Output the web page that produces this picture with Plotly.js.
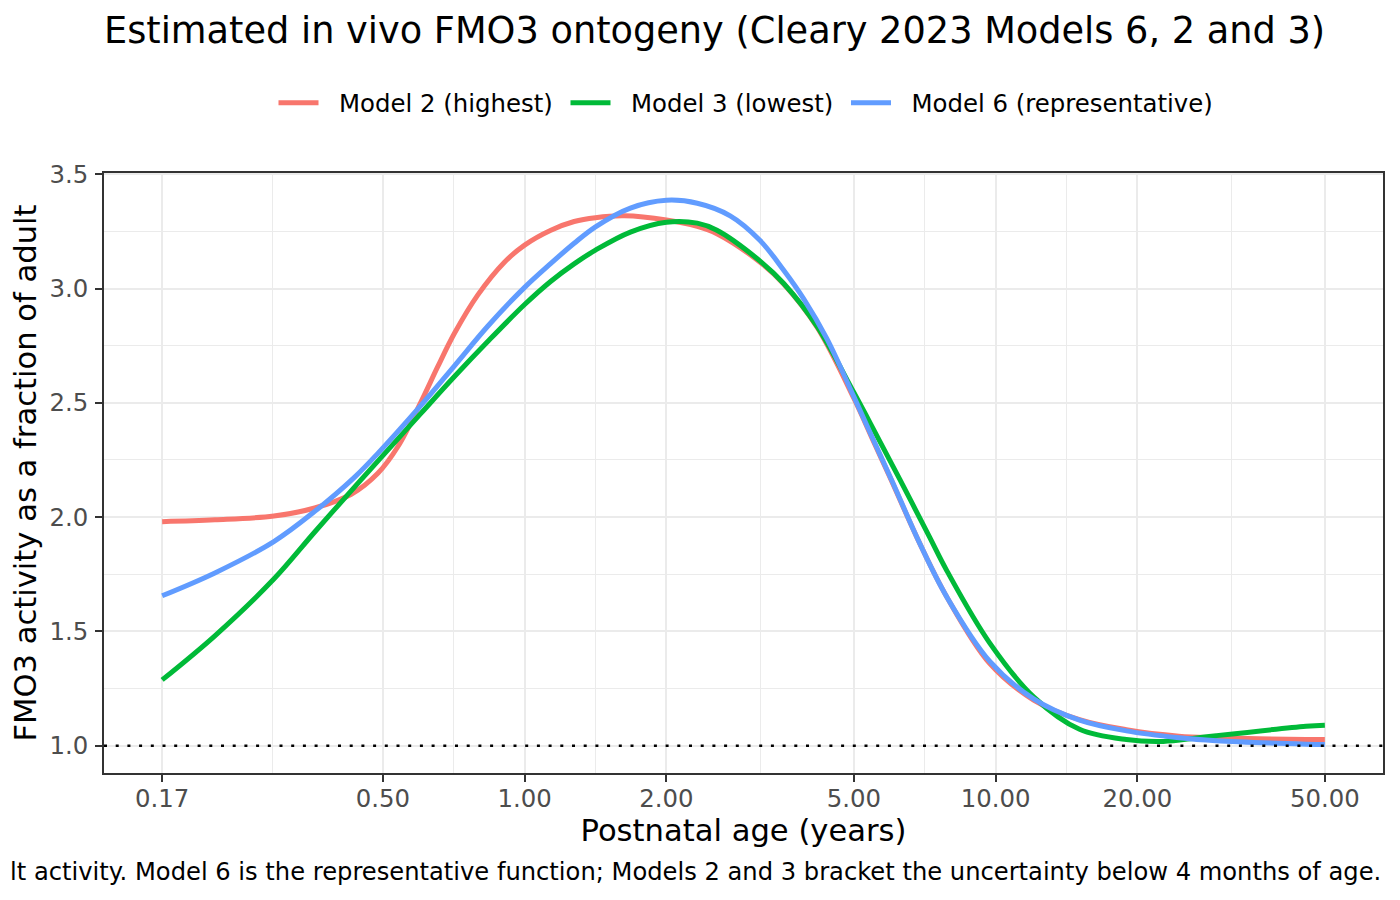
<!DOCTYPE html>
<html>
<head>
<meta charset="utf-8">
<script src="https://cdn.plot.ly/plotly-3.0.1.min.js"></script>
<style>
  html, body { margin: 0; padding: 0; background: #ffffff; }
  #chart { width: 1400px; height: 900px; }
</style>
</head>
<body>
<div id="chart"></div>
<script>
// ---- Data ----
const ageModel2 = [0.17, 0.22, 0.2935, 0.3584, 0.4285, 0.488, 0.538, 0.603, 0.654, 0.7097,
                   0.795, 0.906, 1.0, 1.137, 1.274, 1.414, 1.626, 2.0, 2.326, 2.56,
                   3.162, 3.549, 4.18, 5.0, 5.508, 5.964, 6.9, 7.88, 9.71, 12.04,
                   15.07, 18.95, 24.5, 29.4, 45.6, 50.0];
const model2Highest = [1.980, 1.988, 2.005, 2.040, 2.100, 2.192, 2.308, 2.505, 2.658, 2.804,
                       2.971, 3.115, 3.190, 3.255, 3.293, 3.310, 3.318, 3.300, 3.272, 3.240,
                       3.115, 3.020, 2.830, 2.520, 2.330, 2.175, 1.885, 1.650, 1.360, 1.200,
                       1.114, 1.070, 1.042, 1.035, 1.027, 1.027];

const ageModel3 = [0.17, 0.22, 0.2935, 0.3584, 0.4493, 0.488, 0.603, 0.7097, 0.835, 1.0,
                   1.137, 1.274, 1.414, 1.677, 2.0, 2.326, 2.56, 3.162, 3.549, 4.18,
                   5.0, 5.508, 6.26, 7.25, 7.88, 9.71, 12.04, 15.07, 18.95, 22.7,
                   26.7, 29.4, 45.6, 50.0];
const model3Lowest = [1.288, 1.481, 1.729, 1.935, 2.163, 2.245, 2.455, 2.615, 2.768, 2.930,
                      3.032, 3.108, 3.168, 3.247, 3.290, 3.286, 3.255, 3.120, 3.022, 2.833,
                      2.545, 2.383, 2.165, 1.910, 1.765, 1.450, 1.214, 1.072, 1.027, 1.019,
                      1.034, 1.044, 1.085, 1.090];

const ageModel6 = [0.17, 0.22, 0.2935, 0.3584, 0.4357, 0.488, 0.603, 0.7097, 0.835, 1.0,
                   1.137, 1.274, 1.414, 1.677, 2.0, 2.326, 2.732, 3.162, 3.549, 3.913,
                   4.385, 5.0, 5.508, 6.02, 6.9, 7.88, 9.71, 12.04, 15.07, 18.95,
                   24.5, 29.4, 45.6, 50.0];
const model6Representative = [1.656, 1.756, 1.893, 2.025, 2.175, 2.279, 2.490, 2.662, 2.835, 3.005,
                              3.110, 3.198, 3.270, 3.352, 3.386, 3.373, 3.318, 3.210, 3.080, 2.955,
                              2.780, 2.527, 2.335, 2.160, 1.885, 1.650, 1.370, 1.205, 1.112, 1.065,
                              1.035, 1.022, 1.007, 1.005];

const seriesNames = ["Model 2 (highest)", "Model 3 (lowest)", "Model 6 (representative)"];
const seriesColors = ["#F8766D", "#00BA38", "#619CFF"];

const xTickValues = [0.17, 0.5, 1, 2, 5, 10, 20, 50];
const xTickLabels = ["0.17", "0.50", "1.00", "2.00", "5.00", "10.00", "20.00", "50.00"];
const adultReference = 1.0;

const titleText = "Estimated in vivo FMO3 ontogeny (Cleary 2023 Models 6, 2 and 3)";
const xTitleText = "Postnatal age (years)";
const yTitleText = "FMO3 activity as a fraction of adult";
const captionText = "lt activity. Model 6 is the representative function; Models 2 and 3 bracket the uncertainty below 4 months of age.";

// ---- Derived helpers ----
// minor gridlines sit midway (in log space) between major breaks, as ggplot does
const xMinorValues = [];
for (let i = 0; i < xTickValues.length - 1; i++) {
  xMinorValues.push(Math.sqrt(xTickValues[i] * xTickValues[i + 1]));
}
const logMin = Math.log10(xTickValues[0]);
const logMax = Math.log10(xTickValues[xTickValues.length - 1]);
const xExpand = 0.05 * (logMax - logMin);

const allY = model2Highest.concat(model3Lowest, model6Representative, [adultReference]);
const yMin = Math.min.apply(null, allY);
const yMax = Math.max.apply(null, allY);
const yExpand = 0.05 * (yMax - yMin);

const FONT = "DejaVu Sans, Verdana, sans-serif";
const SMALL = 24.4;
const NB = "\u00a0";

const seriesAges = [ageModel2, ageModel3, ageModel6];
const seriesValues = [model2Highest, model3Lowest, model6Representative];
const traces = seriesValues.map((vals, i) => ({
  type: "scatter",
  mode: "lines",
  name: NB + NB + seriesNames[i] + NB,
  x: seriesAges[i],
  y: vals,
  line: { color: seriesColors[i], width: 5, shape: "spline", smoothing: 1 },
  hovertemplate: seriesNames[i] + "<br>Age %{x} y<br>%{y:.2f}<extra></extra>"
}));

const layout = {
  width: 1400,
  height: 900,
  paper_bgcolor: "#ffffff",
  plot_bgcolor: "#ffffff",
  font: { family: FONT, color: "#000000" },
  margin: { l: 104, r: 17, t: 173, b: 127, pad: 0 },
  title: {
    text: titleText,
    font: { family: FONT, size: 36.7, color: "#000000" },
    xref: "paper", x: 0, xanchor: "left",
    yref: "container", y: 1 - 30 / 900, yanchor: "middle"
  },
  showlegend: true,
  legend: {
    orientation: "h",
    xref: "paper", yref: "paper",
    x: 0.5 + 6 / 1279, xanchor: "center",
    y: 1 + 70 / 600, yanchor: "middle",
    font: { family: FONT, size: SMALL, color: "#000000" },
    bgcolor: "rgba(0,0,0,0)",
    itemwidth: 40
  },
  xaxis: {
    type: "log",
    range: [logMin - xExpand, logMax + xExpand],
    tickmode: "array",
    tickvals: xTickValues,
    ticktext: xTickLabels,
    tickfont: { family: FONT, size: SMALL, color: "#4D4D4D" },
    ticks: "outside",
    ticklen: 7,
    tickwidth: 2,
    tickcolor: "#333333",
    ticklabelstandoff: -4,
    showgrid: true,
    gridcolor: "#EBEBEB",
    gridwidth: 2,
    minor: {
      tickmode: "array",
      tickvals: xMinorValues,
      showgrid: true,
      gridcolor: "#EBEBEB",
      gridwidth: 1.1,
      ticks: ""
    },
    zeroline: false,
    showline: true,
    mirror: true,
    linecolor: "#333333",
    linewidth: 1.5,
    title: {
      text: xTitleText,
      font: { family: FONT, size: 30.6, color: "#000000" },
      standoff: 8
    },
    automargin: false
  },
  yaxis: {
    range: [yMin - yExpand, yMax + yExpand],
    tickmode: "linear",
    tick0: 1.0,
    dtick: 0.5,
    tickformat: ".1f",
    tickfont: { family: FONT, size: SMALL, color: "#4D4D4D" },
    ticks: "outside",
    ticklen: 7,
    tickwidth: 2,
    tickcolor: "#333333",
    ticklabelstandoff: 2,
    showgrid: true,
    gridcolor: "#EBEBEB",
    gridwidth: 2,
    minor: {
      tickmode: "linear",
      tick0: 1.25,
      dtick: 0.5,
      showgrid: true,
      gridcolor: "#EBEBEB",
      gridwidth: 1.1,
      ticks: ""
    },
    zeroline: false,
    showline: true,
    mirror: true,
    linecolor: "#333333",
    linewidth: 1.5,
    title: {
      text: yTitleText,
      font: { family: FONT, size: 30.6, color: "#000000" },
      standoff: 4
    },
    automargin: false
  },
  shapes: [{
    type: "line",
    xref: "paper", x0: 0, x1: 1,
    yref: "y", y0: adultReference, y1: adultReference,
    line: { color: "#000000", width: 2.5, dash: "3px,8.7px" },
    layer: "above"
  }],
  annotations: [{
    text: captionText,
    xref: "paper", x: 1, xanchor: "right",
    yref: "paper", y: -(872 - 773) / 600, yanchor: "middle",
    showarrow: false,
    font: { family: FONT, size: 24.2, color: "#000000" }
  }]
};

Plotly.newPlot("chart", traces, layout, { displayModeBar: false, responsive: false });
</script>
</body>
</html>
